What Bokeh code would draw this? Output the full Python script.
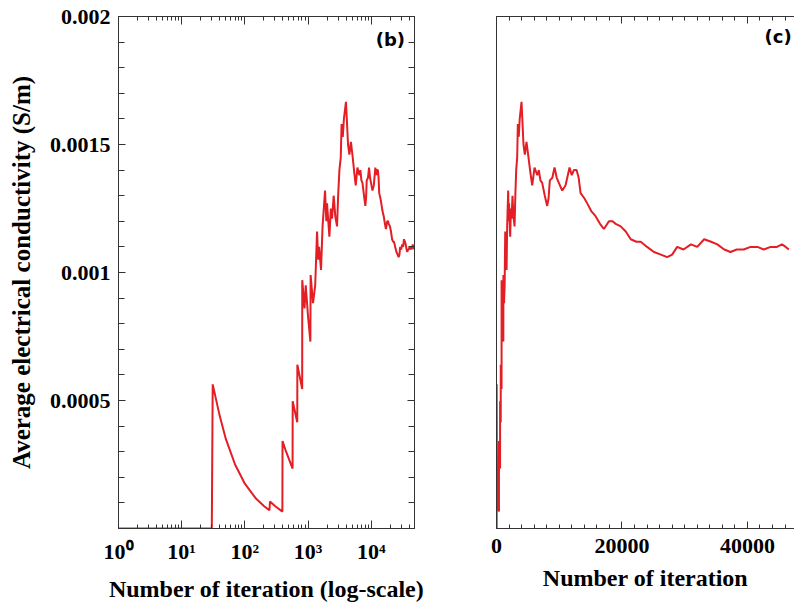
from bokeh.plotting import figure
from bokeh.models import (LinearAxis, LogAxis, FixedTicker, CustomJSTickFormatter,
                          Label, ColumnDataSource, Range1d)
from bokeh.layouts import row
from bokeh.embed import file_html
from bokeh.resources import INLINE

# ---- data ----
iterations = [1, 30, 31, 40, 50, 70, 100, 150, 200, 245, 250, 300, 393, 395, 450, 570, 572,
              676, 678, 809, 811, 880, 920, 1000, 1090, 1100, 1200, 1300, 1390, 1450, 1500,
              1607, 1700, 1860, 1950, 2000, 2180, 2300, 2400, 2550, 2700, 2880, 3000, 3140,
              3300, 3400, 3550, 3700, 3990, 4150, 4300, 4520, 4780, 5100, 5400, 5690, 6060,
              6500, 6750, 7000, 7280, 7700, 8080, 8300, 8500, 8900, 9250, 9600, 9940, 10470,
              11000, 11640, 12000, 12330, 12760, 13100, 13400, 14000, 14460, 15100, 15790,
              16500, 17120, 17920, 18500, 19000, 19800, 20600, 21400, 22300, 23000, 24000,
              25100, 26200, 27200, 28000, 28800, 29800, 31000, 32000, 33100, 34200, 35200,
              36300, 37300, 38300, 39400, 40500, 41600, 42600, 43700, 44700, 45500, 46100, 46600]
conductivity = [0.0, 0.0, 0.000563, 0.00044, 0.00035, 0.00025, 0.000175, 0.000117, 0.000088,
                0.000071, 0.000105, 0.000088, 0.000066, 0.000342, 0.0003, 0.000234, 0.000497,
                0.000415, 0.00064, 0.000545, 0.00097, 0.00086, 0.00095, 0.00083, 0.00073,
                0.00099, 0.00088, 0.00095, 0.00116, 0.00105, 0.0011, 0.00101, 0.00118, 0.00132,
                0.0012, 0.00127, 0.00114, 0.00125, 0.00121, 0.0013, 0.00122, 0.00118, 0.0013,
                0.0014, 0.00145, 0.00158, 0.00153, 0.0016, 0.001667, 0.00158, 0.0015, 0.00146,
                0.00151, 0.00145, 0.00139, 0.00134, 0.00141, 0.00138, 0.0014, 0.00136, 0.00135,
                0.0013, 0.00126, 0.00129, 0.00136, 0.00137, 0.00141, 0.00137, 0.00135, 0.00132,
                0.00134, 0.00141, 0.00138, 0.0014, 0.0014, 0.00137, 0.00131, 0.00129, 0.00127,
                0.00124, 0.00122, 0.00119, 0.00117, 0.0012, 0.0012, 0.00119, 0.00118, 0.00116,
                0.00113, 0.00112, 0.00112, 0.0011, 0.00108, 0.00107, 0.00106, 0.00107, 0.0011,
                0.00109, 0.00111, 0.0011, 0.00113, 0.00112, 0.00111, 0.00109, 0.00108, 0.00109,
                0.00109, 0.0011, 0.0011, 0.00109, 0.0011, 0.0011, 0.00111, 0.0011, 0.00109]

y_major = [0.0005, 0.001, 0.0015, 0.002]
y_minor = [round(0.0001 * k, 4) for k in range(0, 21)]
log_major = [1, 10, 100, 1000, 10000]
log_minor = [m * 10 ** e for e in range(0, 5) for m in range(2, 10)]
lin_major = [0, 20000, 40000]
lin_minor = list(range(0, 50001, 2000))

SERIF = "Liberation Serif"
RED = "#e31e24"
FRAME = "#333333"

src = ColumnDataSource(dict(n=iterations, s=conductivity))

blank = CustomJSTickFormatter(code="return '';")
y_fmt = CustomJSTickFormatter(code="return String(parseFloat(tick.toFixed(4)));")
log_fmt = CustomJSTickFormatter(
    code="const s=['\u2070','\u00b9','\u00b2','\u00b3','\u2074','\u2075'];"
         "return '10'+s[Math.round(Math.log10(tick))];")
lin_fmt = CustomJSTickFormatter(code="return tick.toFixed(0);")


def style(ax, labels=True, major_in=7, minor_in=4, line=True, label_size="24px"):
    ax.major_tick_in = major_in
    ax.major_tick_out = 0
    ax.minor_tick_in = minor_in
    ax.minor_tick_out = 0
    ax.major_tick_line_color = FRAME
    ax.minor_tick_line_color = FRAME
    ax.axis_line_color = FRAME if line else None
    if labels:
        ax.major_label_text_font = SERIF
        ax.major_label_text_font_style = "bold"
        ax.major_label_text_font_size = "22px"
        ax.major_label_text_color = "black"
        ax.axis_label_text_font = SERIF
        ax.axis_label_text_font_style = "bold"
        ax.axis_label_text_font_size = label_size
        ax.axis_label_text_color = "black"
    else:
        ax.major_label_text_font_size = "1px"
        ax.major_label_standoff = 0
    return ax


# ---------------- panel (b): log scale ----------------
p1 = figure(width=440, height=604, x_axis_type="log", x_range=Range1d(1, 48500),
            y_range=Range1d(0, 0.002), x_axis_location=None, y_axis_location=None,
            output_backend="svg", toolbar_location=None,
            min_border_left=118, min_border_right=26, min_border_top=16, min_border_bottom=73,
            outline_line_color=FRAME, outline_line_width=1)
p1.grid.grid_line_color = None

xb = style(LogAxis(ticker=FixedTicker(ticks=log_major, minor_ticks=log_minor),
                   formatter=log_fmt, axis_label="Number of iteration (log-scale)"),
           major_in=8, minor_in=4)
xb.major_label_standoff = 10
xb.axis_label_standoff = 9
p1.add_layout(xb, "below")
xt = style(LogAxis(ticker=FixedTicker(ticks=log_major, minor_ticks=log_minor),
                   formatter=blank), labels=False, major_in=8, minor_in=4)
p1.add_layout(xt, "above")

yl = style(LinearAxis(ticker=FixedTicker(ticks=y_major, minor_ticks=y_minor),
                      formatter=y_fmt, axis_label="Average electrical conductivity (S/m)"),
           major_in=7, minor_in=6, label_size="25px")
yl.major_label_standoff = 8
yl.axis_label_standoff = 12
p1.add_layout(yl, "left")
yr = style(LinearAxis(ticker=FixedTicker(ticks=y_major, minor_ticks=y_minor),
                      formatter=blank), labels=False, major_in=7, minor_in=6)
p1.add_layout(yr, "right")

p1.line("n", "s", source=src, line_color=RED, line_width=2)
p1.add_layout(Label(x=34400, y=0.00191, text="(b)", text_font="DejaVu Sans",
                    text_font_style="bold", text_font_size="18px", text_color="black",
                    text_align="right", text_baseline="middle"))

# ---------------- panel (c): linear scale ----------------
p2 = figure(width=354, height=604, x_range=Range1d(0, 47500), y_range=Range1d(0, 0.002),
            x_axis_location=None, y_axis_location=None,
            output_backend="svg", toolbar_location=None,
            min_border_left=56, min_border_right=0, min_border_top=16, min_border_bottom=73,
            outline_line_color=None)
p2.grid.grid_line_color = None

xb2 = style(LinearAxis(ticker=FixedTicker(ticks=lin_major, minor_ticks=lin_minor),
                       formatter=lin_fmt, axis_label="Number of iteration"),
            major_in=7, minor_in=4)
xb2.major_label_standoff = 10
xb2.axis_label_standoff = 9
p2.add_layout(xb2, "below")
xt2 = style(LinearAxis(ticker=FixedTicker(ticks=lin_major, minor_ticks=lin_minor),
                       formatter=blank), labels=False, major_in=7, minor_in=4)
p2.add_layout(xt2, "above")
yl2 = style(LinearAxis(ticker=FixedTicker(ticks=[], minor_ticks=[]), formatter=blank),
            labels=False, major_in=0, minor_in=0)
p2.add_layout(yl2, "left")

p2.line("n", "s", source=src, line_color=RED, line_width=2)
p2.add_layout(Label(x=47050, y=0.001922, text="(c)", text_font="DejaVu Sans",
                    text_font_style="bold", text_font_size="18px", text_color="black",
                    text_align="right", text_baseline="middle"))

layout = row(p1, p2)
open("out.html", "w").write(file_html(layout, INLINE))
